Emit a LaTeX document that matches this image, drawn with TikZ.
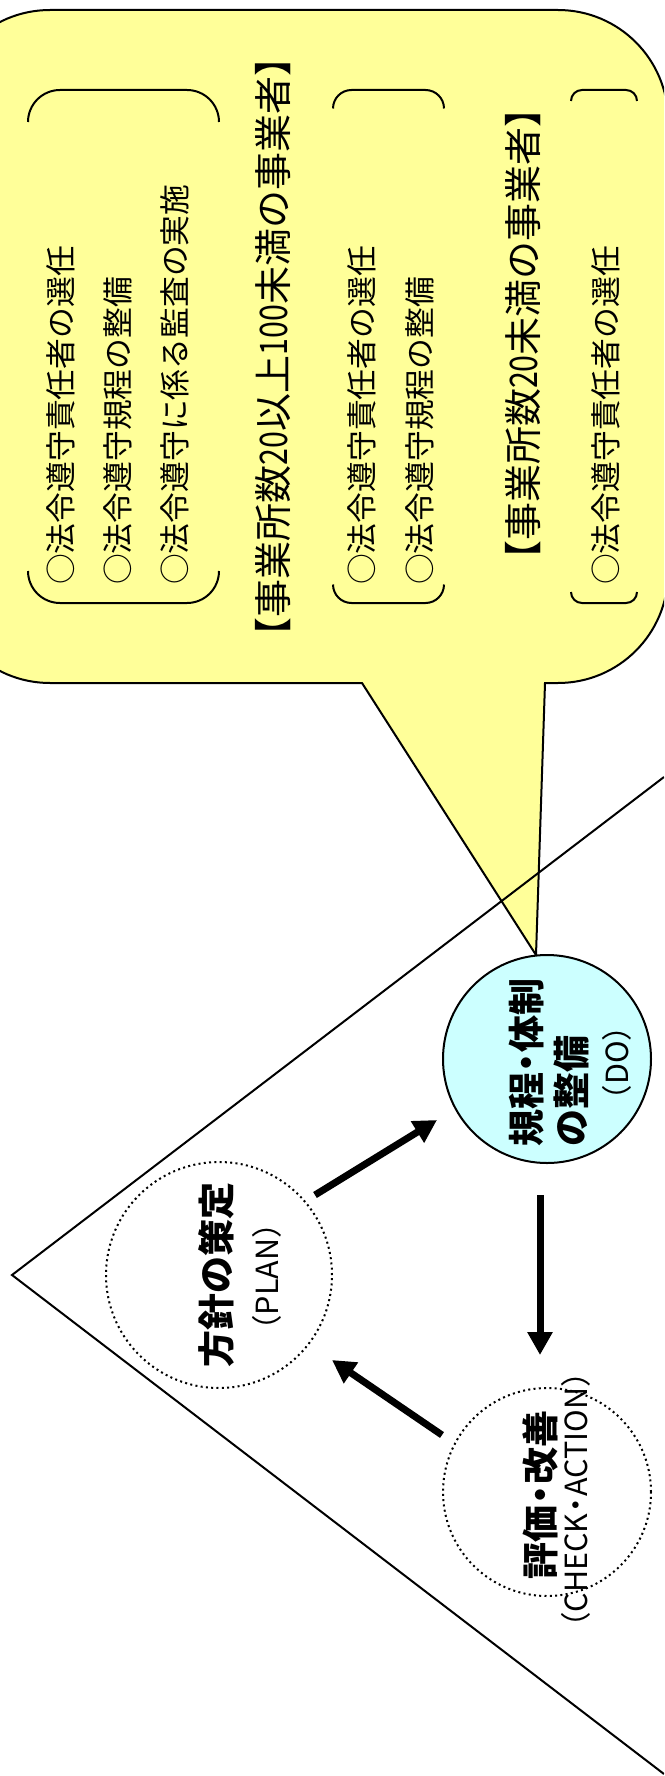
\documentclass[tikz,border=0pt]{standalone}
\usepackage{fontspec}
\setmainfont{Noto Sans CJK JP}
\usepackage{graphicx}
\usetikzlibrary{arrows.meta}
\definecolor{bubbleyellow}{HTML}{FFFF99}
\definecolor{docyan}{HTML}{CCFFFF}
\newcommand{\nd}[1]{\scalebox{0.8}[1]{#1}}
\newcommand{\mdot}{\kern-.23em・\kern-.23em}
\begin{document}
\begin{tikzpicture}[x=1pt,y=-1pt,
  bubble/.style={draw=black, line width=2pt, fill=bubbleyellow, line join=miter},
  vline/.style={draw=black, line width=2pt},
  brk/.style={draw=black, line width=2pt, rounded corners=#1},
  itm/.style={rotate=90, anchor=west, inner sep=0pt, font=\fontsize{30.8}{36}\selectfont},
  hdr/.style={rotate=90, inner sep=0pt, font=\fontsize{38}{44}\selectfont},
  ctitle/.style={rotate=90, inner sep=0pt, font=\bfseries\fontsize{37}{43}\selectfont},
  csub/.style={rotate=90, inner sep=0pt, font=\fontsize{30.5}{36}\selectfont},
  dotcirc/.style={circle, draw=black, line width=2pt, dash pattern=on 2pt off 3.3pt, inner sep=0pt},
  docirc/.style={circle, draw=black, line width=2pt, fill=docyan, inner sep=0pt},
  flow/.style={line width=7pt, -{Triangle[length=23pt,width=24pt]}},
]
\useasboundingbox (0,0) rectangle (664,1776);
\clip (0,0) rectangle (664,1776);

% callout bubble
\path[bubble] (362,683) -- (536,955) -- (545,683) -- (558,683)
  arc[start angle=90, end angle=0, radius=110] -- (668,120)
  arc[start angle=0, end angle=-90, radius=110] -- (50,10)
  arc[start angle=270, end angle=180, radius=110] -- (-60,573)
  arc[start angle=180, end angle=90, radius=110] -- cycle;

% V lines
\coordinate (vtop) at (664,777);
\coordinate (vtip) at (12,1275);
\coordinate (vbot) at (664,1774);
\draw[vline] (vtop) -- (vtip) -- (vbot);

% bracket pairs
\draw[brk=32] (28,122) -- (28,90) -- (219,90) -- (219,122);
\draw[brk=32] (28,571) -- (28,603) -- (219,603) -- (219,571);
\draw[brk=18.5] (333,108.5) -- (333,90) -- (444,90) -- (444,108.5);
\draw[brk=18.5] (333,584.5) -- (333,603) -- (444,603) -- (444,584.5);
\draw[brk=11] (571,101) -- (571,90) -- (637,90) -- (637,101);
\draw[brk=11] (571,592) -- (571,603) -- (637,603) -- (637,592);

% bubble texts
\node[itm] (g1a) at (60.5,585) {○法令遵守責任者の選任};
\node[itm] (g1b) at (117.5,585) {○法令遵守規程の整備};
\node[itm] (g1c) at (175,585) {○法令遵守に係る監査の実施};
\node[hdr] (h1) at (273,347) {【事業所数\nd{20}以上\nd{100}未満の事業者】};
\node[itm] (g2a) at (362,585) {○法令遵守責任者の選任};
\node[itm] (g2b) at (420,585) {○法令遵守規程の整備};
\node[hdr] (h2) at (523,334) {【事業所数\nd{20}未満の事業者】};
\node[itm] (g3a) at (606,585) {○法令遵守責任者の選任};

% cycle circles
\node[dotcirc, minimum size=226pt] (plan) at (219,1275) {};
\node[docirc, minimum size=208pt] (do) at (547,1059) {};
\node[dotcirc, minimum size=208pt] (chk) at (547,1492) {};

\node[ctitle] (plant) at (216,1275) {方針の策定};
\node[csub] (plans) at (267,1277) {（PLAN）};
\node[ctitle, anchor=west] (dot1) at (527,1147) {規程\mdot 体制};
\node[ctitle, anchor=west] (dot2) at (572,1147) {の整備};
\node[csub] (dos) at (617,1063) {（DO）};
\node[ctitle] (chkt) at (540,1495) {評価\mdot 改善};
\node[csub] (chks) at (576,1500) {（CHECK\mdot ACTION）};

% arrows
\coordinate (planout) at (315,1195);
\coordinate (doin) at (437,1120);
\coordinate (doout) at (540,1195);
\coordinate (chkin) at (540,1355);
\coordinate (chkout) at (442,1435);
\coordinate (planin) at (332,1360);
\draw[flow] (planout) -- (doin);
\draw[flow] (doout) -- (chkin);
\draw[flow] (chkout) -- (planin);
\end{tikzpicture}
\end{document}
